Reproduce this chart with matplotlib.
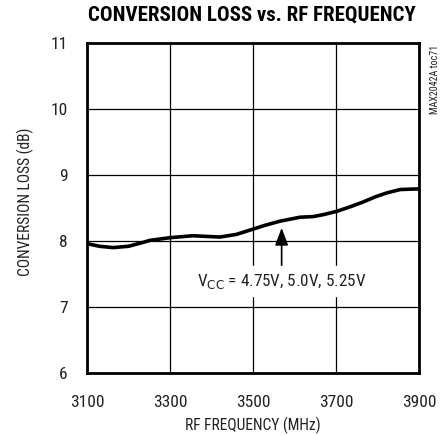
import numpy as np
import matplotlib.pyplot as plt

freq = [3100, 3130, 3163, 3200, 3230, 3252, 3300, 3355, 3420, 3460, 3500,
        3530, 3565, 3613, 3645, 3670, 3702, 3735, 3765, 3795, 3823, 3855,
        3900]
loss = [7.96, 7.92, 7.90, 7.92, 7.97, 8.01, 8.05, 8.08, 8.06, 8.10, 8.18,
        8.24, 8.30, 8.36, 8.37, 8.40, 8.45, 8.52, 8.59, 8.67, 8.73, 8.78,
        8.79]
xticks = [3100, 3300, 3500, 3700, 3900]
yticks = [6, 7, 8, 9, 10, 11]

plt.rcParams['font.family'] = ['Roboto Condensed', 'Liberation Sans Narrow',
                               'Roboto', 'DejaVu Sans']
txt = '#222222'

fig = plt.figure(figsize=(4.48, 4.36), dpi=100)
ax = fig.add_axes([87/448, 1 - 373/436, 332/448, 330/436])

ax.plot(freq, loss, color='black', lw=2.6, solid_capstyle='round',
        solid_joinstyle='round')
ax.set_xlim(3100, 3900)
ax.set_ylim(6, 11)
ax.set_xticks(xticks)
ax.set_yticks(yticks)
ax.grid(True, color='black', lw=0.9)
ax.tick_params(length=0, labelsize=12.5, labelcolor=txt)
ax.tick_params(axis='x', pad=16)
ax.tick_params(axis='y', pad=14)
for s in ax.spines.values():
    s.set_linewidth(2)

ax.annotate('', xy=(3569, 8.24), xytext=(3569, 7.56),
            arrowprops=dict(arrowstyle='-|>,head_width=0.4,head_length=1.05',
                            color='black', lw=1.2))
ax.text(3570, 7.39, r'V$_{\rm CC}$ = 4.75V, 5.0V, 5.25V', ha='center', va='center',
        fontsize=12.3, color=txt, backgroundcolor='white')

ax.set_xlabel('RF FREQUENCY (MHz)', fontsize=11.2, color=txt)
ax.xaxis.set_label_coords(0.5, -0.132)
ax.set_ylabel('CONVERSION LOSS (dB)', fontsize=11.2, color=txt)
ax.yaxis.set_label_coords(-0.16, 0.52)
fig.text(252/448, 1 - 15/436, 'CONVERSION LOSS vs. RF FREQUENCY', ha='center',
         va='center', fontsize=15, fontweight='black')
fig.text(435/448, 1 - 45/436, 'MAX2042A toc71', rotation=90, ha='center', va='top',
         fontsize=7.2, color=txt)

fig.savefig('out.png', dpi=100)
